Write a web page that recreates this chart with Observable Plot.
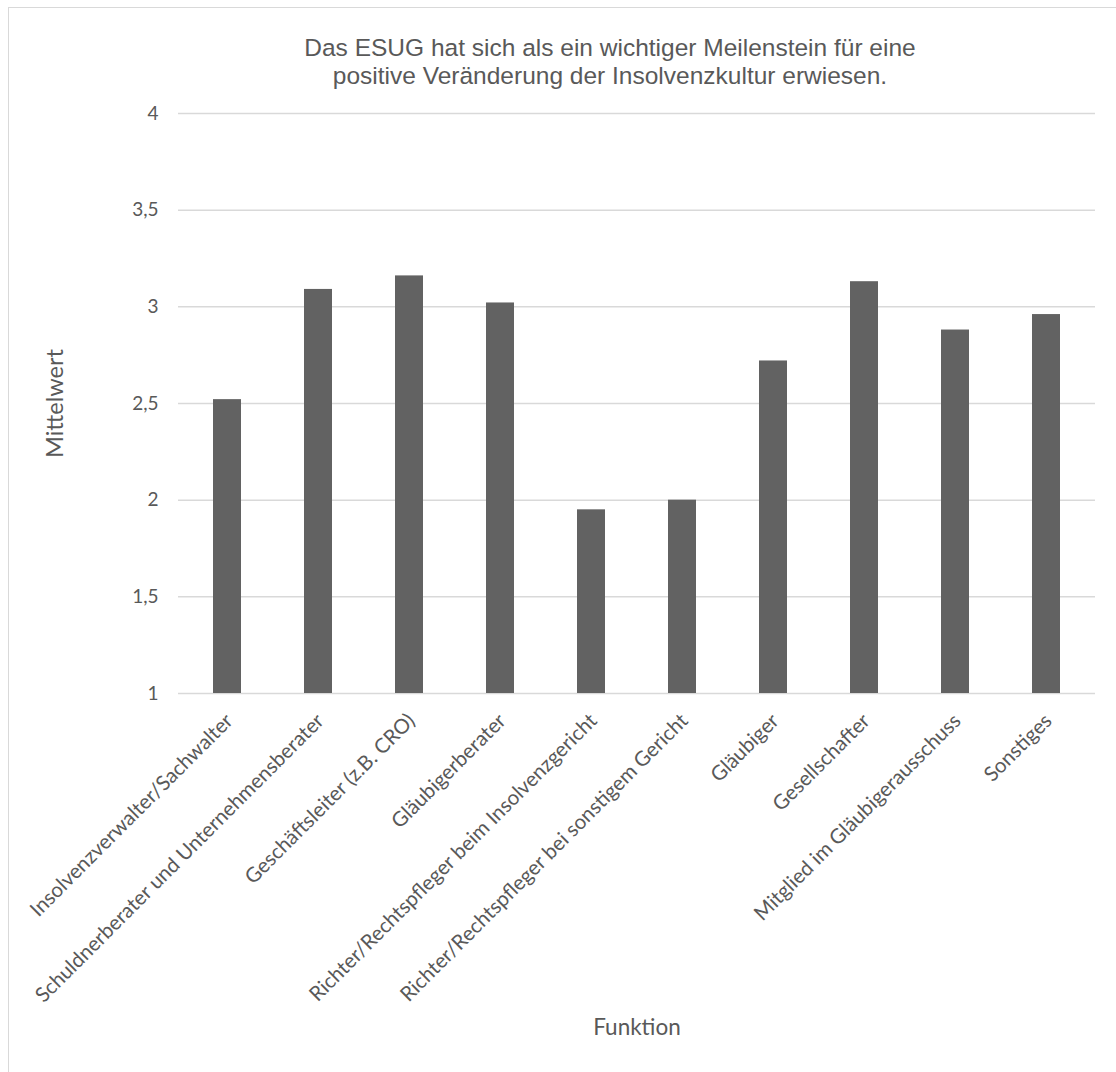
<!DOCTYPE html>
<html>
<head>
<meta charset="utf-8">
<script src="https://cdn.jsdelivr.net/npm/d3@7"></script>
<script src="https://cdn.jsdelivr.net/npm/@observablehq/plot@0.6"></script>
<style>
  body { margin: 0; background: #fff; }
  #chart { position: relative; width: 1116px; height: 1072px; overflow: hidden; background: #fff; }
  #frame { position: absolute; left: 8px; top: 7px; right: -10px; bottom: -10px;
           border-left: 1.5px solid #d9d9d9; border-top: 1.5px solid #d9d9d9; pointer-events: none; }
  #title { position: absolute; left: 210px; width: 800px; top: 34px; text-align: center;
           font: 24.5px "Liberation Sans", Arial, sans-serif; color: #595959; line-height: 28px; }
  #plot { position: absolute; left: 0; top: 0; }
</style>
</head>
<body>
<div id="chart">
  <div id="plot"></div>
  <div id="title">Das ESUG hat sich als ein wichtiger Meilenstein für eine<br>positive Veränderung der Insolvenzkultur erwiesen.</div>
  <div id="frame"></div>
</div>
<script>
// Funktionen der Befragten und ihre Mittelwerte
const funktionen = [
  "Insolvenzverwalter/Sachwalter",
  "Schuldnerberater und Unternehmensberater",
  "Geschäftsleiter (z.B. CRO)",
  "Gläubigerberater",
  "Richter/Rechtspfleger beim Insolvenzgericht",
  "Richter/Rechtspfleger bei sonstigem Gericht",
  "Gläubiger",
  "Gesellschafter",
  "Mitglied im Gläubigerausschuss",
  "Sonstiges"
];
const mittelwerte = [2.52, 3.09, 3.16, 3.02, 1.95, 2.00, 2.72, 3.13, 2.88, 2.96];
const yTicks = [1, 1.5, 2, 2.5, 3, 3.5, 4];

const rows = funktionen.map((f, i) => ({funktion: f, wert: mittelwerte[i]}));
const fmt = v => String(v).replace(".", ",");
const axisFont = "Lato, 'Open Sans', sans-serif";

const plot = Plot.plot({
  width: 1116,
  height: 1072,
  marginLeft: 178,
  marginRight: 21,
  marginTop: 113,
  marginBottom: 379,
  style: {fontFamily: axisFont, color: "#595959", background: "transparent"},
  x: {domain: funktionen, paddingInner: 0.687, paddingOuter: 0.3435, label: null},
  y: {domain: [1, 4], label: null},
  marks: [
    Plot.gridY(yTicks, {stroke: "#d9d9d9", strokeOpacity: 1, strokeWidth: 1.5}),
    Plot.barY(rows, {x: "funktion", y1: 1, y2: "wert", fill: "#626262"}),
    Plot.axisY(yTicks, {tickSize: 0, tickPadding: 20, tickFormat: fmt, fontSize: 19, fill: "#595959"}),
    Plot.axisX({tickSize: 0, tickPadding: 24, dx: 2, tickRotate: -45, fontSize: 20.5, fill: "#595959"}),
    Plot.text(["Mittelwert"], {frameAnchor: "left", textAnchor: "middle", dx: -123, rotate: -90, fontSize: 23.5, fill: "#595959"}),
    Plot.text(["Funktion"], {frameAnchor: "bottom", textAnchor: "middle", dy: 341, fontSize: 22.5, fill: "#595959"})
  ]
});
document.getElementById("plot").appendChild(plot);
</script>
</body>
</html>
